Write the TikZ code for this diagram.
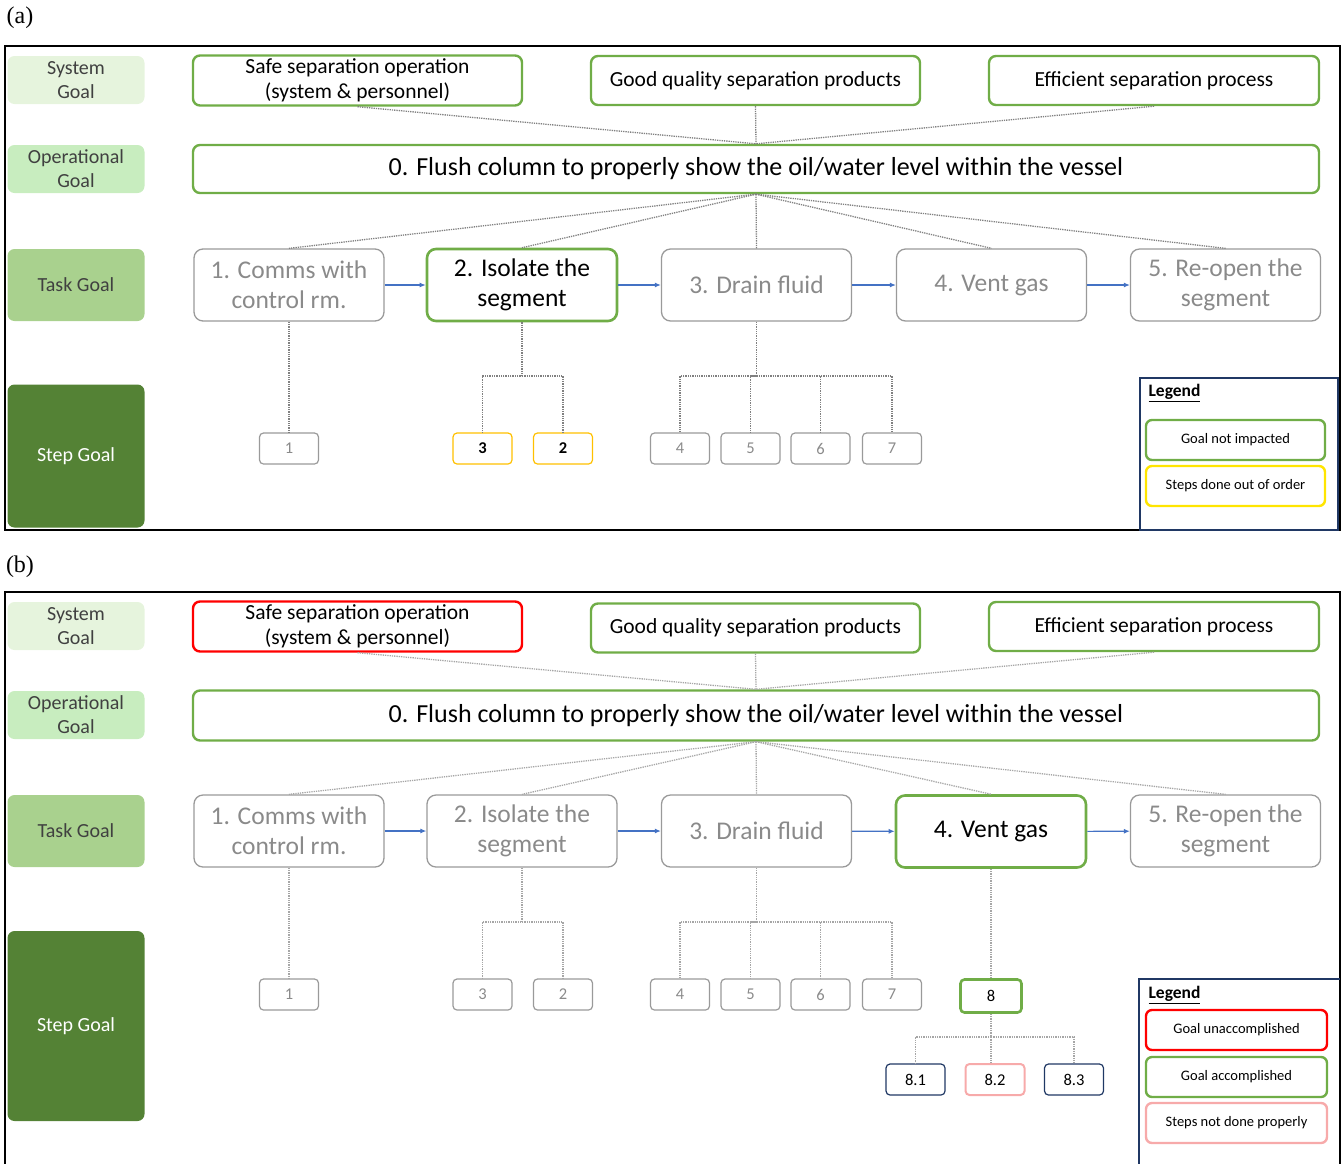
\documentclass[tikz,border=0pt]{standalone}
\usepackage{fontspec}
\setmainfont{Carlito}
\newfontfamily\capfont{Liberation Serif}
\usetikzlibrary{arrows.meta}
\definecolor{goalgreen}{HTML}{70AD47}
\definecolor{boxgray}{HTML}{9A9A9A}
\definecolor{txtgray}{HTML}{8A8A8A}
\definecolor{lbltext}{HTML}{404040}
\definecolor{lsys}{HTML}{E6F4DD}
\definecolor{lop}{HTML}{C8EDBF}
\definecolor{ltask}{HTML}{A9D18E}
\definecolor{lstep}{HTML}{548235}
\definecolor{flowblue}{HTML}{4472C4}
\definecolor{stepyellow}{HTML}{FFC000}
\definecolor{keyyellow}{HTML}{FFE500}
\definecolor{navy}{HTML}{203864}
\definecolor{softpink}{HTML}{F7AAAA}
\begin{document}
\begin{tikzpicture}[x=1pt,y=-1pt,
    lvl/.style={rounded corners=7pt, minimum width=137pt, align=center, text=lbltext, font=\fontsize{20}{24}\selectfont},
    sysgoal/.style={draw=goalgreen, line width=2.4pt, rounded corners=7pt, minimum width=329pt, minimum height=49pt, align=center, font=\fontsize{21.5}{25}\selectfont},
    task/.style={draw=boxgray, line width=1.3pt, rounded corners=9pt, minimum width=190pt, minimum height=72pt, align=center, text=txtgray, font=\fontsize{25.5}{30}\selectfont},
    stepbox/.style={draw=boxgray, line width=1.2pt, rounded corners=4pt, minimum width=59pt, minimum height=31pt, text=txtgray, font=\fontsize{16.5}{18}\selectfont},
    keybox/.style={line width=2.4pt, rounded corners=6pt, minimum width=179pt, minimum height=40pt, font=\fontsize{14.5}{17}\selectfont},
    done/.style={draw=goalgreen, line width=2.6pt, text=black},
    link/.style={draw=gray, densely dotted, line width=1.3pt},
    flow/.style={draw=flowblue, line width=1.1pt, -{Latex[length=6pt,width=5pt]}}]
\useasboundingbox (0,0) rectangle (1343,1163);

% ---------- (a)
\node[font=\capfont\fontsize{24}{28}\selectfont] at (20,18) (capa) {(a)};
\draw[line width=2pt] (5,46) rectangle (1340,530);
\node[lvl, fill=lsys, minimum height=48pt] at (76,80) (asys) {System\\Goal};
\node[lvl, fill=lop, minimum height=48pt] at (76,169) (aop) {Operational\\Goal};
\node[lvl, fill=ltask, minimum height=72pt] at (76,285) (atask) {Task Goal};
\node[lvl, fill=lstep, minimum height=143pt, text=white] at (76,456) (astep) {Step Goal};

\node[sysgoal] at (357.5,80.5) (ag1) {Safe separation operation\\(system \& personnel)};
\node[sysgoal] at (755.5,80.5) (ag2) {Good quality separation products};
\node[sysgoal, minimum width=330pt] at (1154,80.5) (ag3) {Efficient separation process};
\node[sysgoal, minimum width=1126pt, minimum height=48pt, font=\fontsize{26}{30}\selectfont] at (756,169) (a0) {0. Flush column to properly show the oil/water level within the vessel};

\node[task] at (289,285) (at1) {1. Comms with\\control rm.};
\node[task, done] at (522,285) (at2) {2. Isolate the\\segment};
\node[task] at (756.5,285) (at3) {3. Drain fluid};
\node[task] at (991.5,285) (at4) {4. Vent gas};
\node[task] at (1225.5,285) (at5) {5. Re-open the\\segment};

\node[stepbox] at (289,448.5) (as1) {1};
\node[stepbox, draw=stepyellow, text=black, font=\fontsize{16.5}{18}\selectfont\bfseries] at (482.5,448.5) (as3) {3};
\node[stepbox, draw=stepyellow, text=black, font=\fontsize{16.5}{18}\selectfont\bfseries] at (563,448.5) (as2) {2};
\node[stepbox] at (680,448.5) (as4) {4};
\node[stepbox] at (750.5,448.5) (as5) {5};
\node[stepbox] at (820.5,448.5) (as6) {6};
\node[stepbox] at (892,448.5) (as7) {7};
\coordinate (aj2) at (522,376);
\coordinate (aj3) at (756.5,376);

\draw[link] (ag1.south) -- (a0.north);
\draw[link] (ag2.south) -- (a0.north);
\draw[link] (ag3.south) -- (a0.north);
\draw[link] (a0.south) -- (at1.north);
\draw[link] (a0.south) -- (at2.north);
\draw[link] (a0.south) -- (at3.north);
\draw[link] (a0.south) -- (at4.north);
\draw[link] (a0.south) -- (at5.north);
\draw[link] (at1) -- (as1);
\draw[link] (at2) -- (aj2) -| (as3);
\draw[link] (aj2) -| (as2);
\draw[link] (at3) -- (aj3) -| (as4);
\draw[link] (aj3) -| (as5);
\draw[link] (aj3) -| (as6);
\draw[link] (aj3) -| (as7);
\draw[flow] (at1) -- (at2);
\draw[flow] (at2) -- (at3);
\draw[flow] (at3) -- (at4);
\draw[flow] (at4) -- (at5);

\draw[draw=navy, line width=1.2pt] (1140,378) rectangle (1338,530);
\node[anchor=west, font=\fontsize{17.5}{20}\selectfont\bfseries] at (1145,393) (akey) {\underline{Legend}};
\node[keybox, draw=goalgreen] at (1235.5,440) (aka) {Goal not impacted};
\node[keybox, draw=keyyellow] at (1235.5,486) (akb) {Steps done out of order};

% ---------- (b)
\node[font=\capfont\fontsize{24}{28}\selectfont] at (20,567) (capb) {(b)};
\begin{scope}[shift={(0,546)}]
\draw[line width=2pt] (5,620) -- (5,46) -- (1340,46) -- (1340,620);
\node[lvl, fill=lsys, minimum height=48pt] at (76,80) (bsys) {System\\Goal};
\node[lvl, fill=lop, minimum height=48pt] at (76,169) (bop) {Operational\\Goal};
\node[lvl, fill=ltask, minimum height=72pt] at (76,285) (btask) {Task Goal};
\node[lvl, fill=lstep, minimum height=190pt, text=white] at (76,480) (bstep) {Step Goal};

\node[sysgoal, draw=red] at (357.5,80.5) (bg1) {Safe separation operation\\(system \& personnel)};
\node[sysgoal] at (755.5,82) (bg2) {Good quality separation products};
\node[sysgoal, minimum width=330pt] at (1154,80.5) (bg3) {Efficient separation process};
\node[sysgoal, minimum width=1126pt, minimum height=50pt, font=\fontsize{26}{30}\selectfont] at (756,169.5) (b0) {0. Flush column to properly show the oil/water level within the vessel};

\node[task] at (289,285) (bt1) {1. Comms with\\control rm.};
\node[task] at (522,285) (bt2) {2. Isolate the\\segment};
\node[task] at (756.5,285) (bt3) {3. Drain fluid};
\node[task, done] at (991,285.5) (bt4) {4. Vent gas};
\node[task] at (1225.5,285) (bt5) {5. Re-open the\\segment};

\node[stepbox] at (289,448.5) (bs1) {1};
\node[stepbox] at (482.5,448.5) (bs3) {3};
\node[stepbox] at (563,448.5) (bs2) {2};
\node[stepbox] at (680,448.5) (bs4) {4};
\node[stepbox] at (750.5,448.5) (bs5) {5};
\node[stepbox] at (820.5,448.5) (bs6) {6};
\node[stepbox] at (892,448.5) (bs7) {7};
\node[stepbox, done, minimum width=61pt, minimum height=33pt] at (991,450) (bs8) {8};
\node[stepbox, draw=navy, text=black] at (915.5,533.5) (bs81) {8.1};
\node[stepbox, draw=softpink, line width=2pt, text=black] at (995,533.5) (bs82) {8.2};
\node[stepbox, draw=navy, text=black] at (1074,533.5) (bs83) {8.3};
\coordinate (bj2) at (522,376);
\coordinate (bj3) at (756.5,376);
\coordinate (bj8) at (991,491);

\draw[link, gray!70] (bg1.south) -- (b0.north);
\draw[link, gray!70] (bg2.south) -- (b0.north);
\draw[link, gray!70] (bg3.south) -- (b0.north);
\draw[link, gray!70] (b0.south) -- (bt1.north);
\draw[link, gray!70] (b0.south) -- (bt2.north);
\draw[link, gray!70] (b0.south) -- (bt3.north);
\draw[link, gray!70] (b0.south) -- (bt4.north);
\draw[link, gray!70] (b0.south) -- (bt5.north);
\draw[link, gray!70] (bt1) -- (bs1);
\draw[link, gray!70] (bt2) -- (bj2) -| (bs3);
\draw[link, gray!70] (bj2) -| (bs2);
\draw[link, gray!70] (bt3) -- (bj3) -| (bs4);
\draw[link, gray!70] (bj3) -| (bs5);
\draw[link, gray!70] (bj3) -| (bs6);
\draw[link, gray!70] (bj3) -| (bs7);
\draw[link, gray!70] (bt4) -- (bs8);
\draw[link, gray!70] (bs8) -- (bj8) -| (bs81);
\draw[link, gray!70] (bj8) -- (bs82.north -| bj8);
\draw[link, gray!70] (bj8) -| (bs83);
\draw[flow] (bt1) -- (bt2);
\draw[flow] (bt2) -- (bt3);
\draw[flow] (bt3) -- (bt4);
\draw[flow] (bt4) -- (bt5);

\draw[draw=navy, line width=1.2pt] (1139,620) -- (1139,433) -- (1340,433);
\node[anchor=west, font=\fontsize{17.5}{20}\selectfont\bfseries] at (1145,449) (bkey) {\underline{Legend}};
\node[keybox, draw=red, minimum width=181pt] at (1236.5,484) (bka) {Goal unaccomplished};
\node[keybox, draw=goalgreen, minimum width=181pt] at (1236.5,531) (bkb) {Goal accomplished};
\node[keybox, draw=softpink, minimum width=181pt] at (1236.5,577) (bkc) {Steps not done properly};
\end{scope}
\end{tikzpicture}
\end{document}
